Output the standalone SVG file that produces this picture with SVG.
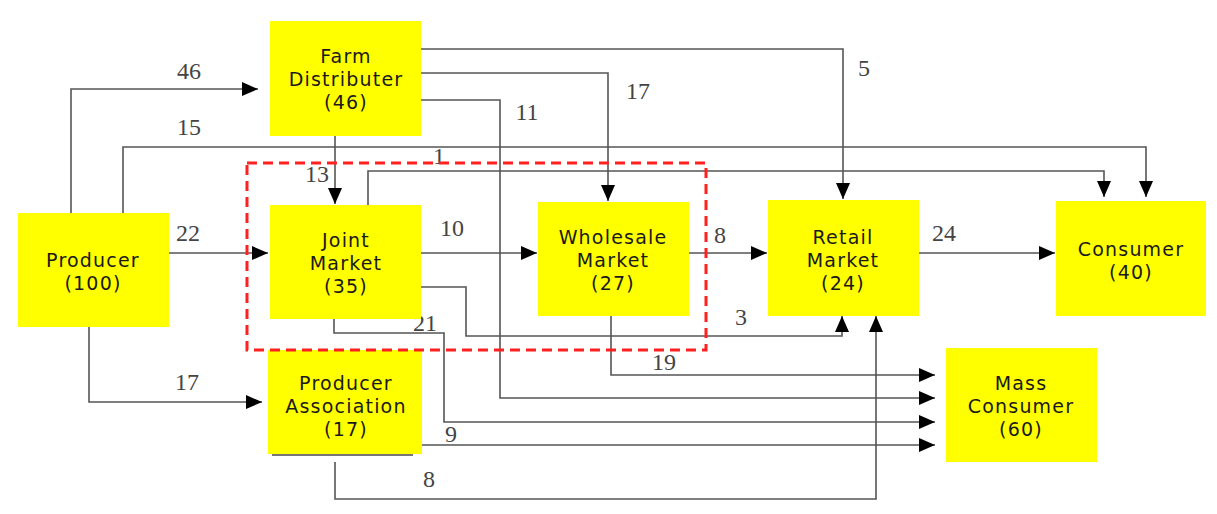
<svg xmlns="http://www.w3.org/2000/svg" width="1217" height="514" viewBox="0 0 1217 514">
<defs>
<marker id="arr" markerUnits="userSpaceOnUse" markerWidth="16" markerHeight="14" refX="16" refY="7" orient="auto">
<path d="M0,0 L16,7 L0,14 z" fill="#000"/>
</marker>
<style>
.box{fill:#ffff00;}
.nt{font-family:"DejaVu Sans","Open Sans",sans-serif;font-size:19px;letter-spacing:1.2px;fill:#1a1a1a;text-anchor:middle;}
.ln{fill:none;stroke:#555;stroke-width:1.6;}
.ar{marker-end:url(#arr);}
.lb{font-family:"Liberation Serif","DejaVu Serif",serif;font-size:24px;fill:#444;text-anchor:middle;}
.hl{fill:none;stroke:#ff2020;stroke-width:3;stroke-dasharray:10 6;}
</style>
</defs>
<rect width="1217" height="514" fill="#fff"/>
<g id="connectors">
<path class="ln ar" d="M71,213 V89 H258"/>
<path class="ln ar" d="M123,213 V147 H1146 V197"/>
<path class="ln ar" d="M335,136 V204"/>
<path class="ln ar" d="M368,205 V171 H1104 V197"/>
<path class="ln ar" d="M421,49 H843 V199"/>
<path class="ln ar" d="M421,73 H608 V201"/>
<path class="ln ar" d="M421,100 H500 V398 H935"/>
<path class="ln ar" d="M169,253 H268"/>
<path class="ln ar" d="M421,253 H537"/>
<path class="ln ar" d="M689,253 H767"/>
<path class="ln ar" d="M919,253 H1055"/>
<path class="ln ar" d="M421,287 H466 V336 H842 V316"/>
<path class="ln ar" d="M334,319 V333 H444 V422 H935"/>
<path class="ln ar" d="M611,316 V375 H935"/>
<path class="ln ar" d="M422,445 H935"/>
<path class="ln ar" d="M335,462 V499 H876 V316"/>
<path class="ln ar" d="M89,327 V402 H262"/>
<text class="lb" x="189" y="79">46</text>
<text class="lb" x="189" y="135">15</text>
<text class="lb" x="317" y="182">13</text>
<text class="lb" x="439" y="164">1</text>
<text class="lb" x="527" y="120">11</text>
<text class="lb" x="638" y="99">17</text>
<text class="lb" x="864" y="76">5</text>
<text class="lb" x="188" y="241">22</text>
<text class="lb" x="452" y="236">10</text>
<text class="lb" x="720" y="243">8</text>
<text class="lb" x="944" y="241">24</text>
<text class="lb" x="741" y="325">3</text>
<text class="lb" x="425" y="331">21</text>
<text class="lb" x="664" y="370">19</text>
<text class="lb" x="451" y="442">9</text>
<text class="lb" x="429" y="487">8</text>
<text class="lb" x="187" y="390">17</text>
</g>
<g id="farm-distributer">
<rect class="box" x="270" y="21" width="151" height="115"/>
<text class="nt" x="346" y="63">Farm</text>
<text class="nt" x="346" y="86">Distributer</text>
<text class="nt" x="346" y="109">(46)</text>
</g>
<g id="producer">
<rect class="box" x="18" y="213" width="151" height="114"/>
<text class="nt" x="93" y="267">Producer</text>
<text class="nt" x="93" y="290">(100)</text>
</g>
<g id="joint-market">
<rect class="box" x="270" y="205" width="151" height="114"/>
<text class="nt" x="346" y="247">Joint</text>
<text class="nt" x="346" y="270">Market</text>
<text class="nt" x="346" y="293">(35)</text>
</g>
<g id="wholesale-market">
<rect class="box" x="538" y="202" width="151" height="114"/>
<text class="nt" x="613" y="244">Wholesale</text>
<text class="nt" x="613" y="267">Market</text>
<text class="nt" x="613" y="290">(27)</text>
</g>
<g id="retail-market">
<rect class="box" x="768" y="200" width="151" height="116"/>
<text class="nt" x="843" y="244">Retail</text>
<text class="nt" x="843" y="267">Market</text>
<text class="nt" x="843" y="290">(24)</text>
</g>
<g id="consumer">
<rect class="box" x="1056" y="201" width="150" height="115"/>
<text class="nt" x="1131" y="256">Consumer</text>
<text class="nt" x="1131" y="279">(40)</text>
</g>
<g id="producer-association">
<rect class="box" x="268" y="350" width="154" height="104"/>
<line x1="272" y1="455" x2="413" y2="455" stroke="#777" stroke-width="2"/>
<text class="nt" x="346" y="390">Producer</text>
<text class="nt" x="346" y="413">Association</text>
<text class="nt" x="346" y="436">(17)</text>
</g>
<g id="mass-consumer">
<rect class="box" x="946" y="348" width="151" height="114"/>
<text class="nt" x="1021" y="390">Mass</text>
<text class="nt" x="1021" y="413">Consumer</text>
<text class="nt" x="1021" y="436">(60)</text>
</g>
<g id="highlight">
<rect class="hl" x="247" y="163" width="459" height="187"/>
</g>
</svg>
